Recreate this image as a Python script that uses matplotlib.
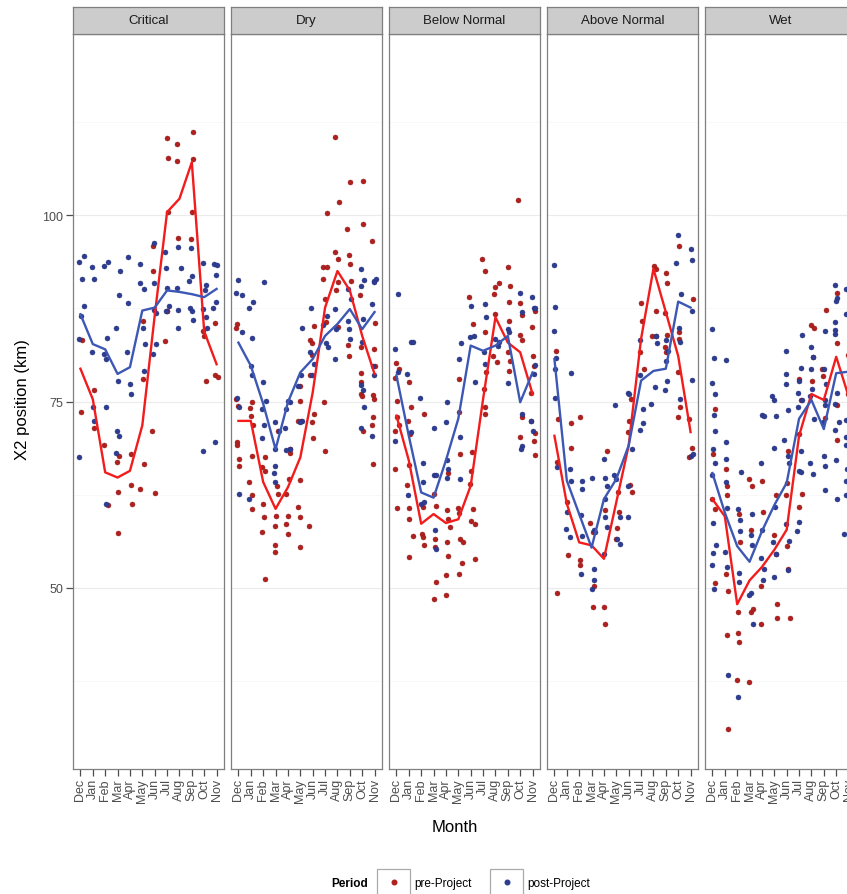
import matplotlib
matplotlib.use('Agg')
import matplotlib.pyplot as plt
from matplotlib.patches import Rectangle
from matplotlib.lines import Line2D

plt.rcParams['font.family'] = ['Liberation Sans', 'DejaVu Sans']

months = ['Dec', 'Jan', 'Feb', 'Mar', 'Apr', 'May', 'Jun', 'Jul', 'Aug', 'Sep', 'Oct', 'Nov']
panels = ['Critical', 'Dry', 'Below Normal', 'Above Normal', 'Wet']
y_ticks = [50, 75, 100]

# ---- Critical ----
crit_pre_m = [7.0, 7.8, 7.1, 7.8, 9.1, 9.1, 7.1, 9.0, 7.9, 8.9, 5.9, 5.9, 7.0,
              0.1, 1.1, 0.05, 1.07, 1.92, 3.12, 2.99, 4.05, 5.12, 5.79,
              2.19, 3.04, 4.05, 4.85, 6.0, 4.19, 3.04, 5.07, 5.07, 6.85,
              6.99, 9.92, 9.97, 10.85, 10.13, 10.85, 11.12]
crit_pre_v = [110.3, 109.6, 107.7, 107.3, 111.2, 107.5, 100.4, 100.4, 96.9, 96.8, 95.8, 92.5, 87.2,
              83.2, 76.6, 73.6, 71.4, 69.2, 67.7, 66.9, 67.9, 66.6, 71.0,
              61.1, 62.8, 63.8, 63.3, 62.7, 61.3, 57.3, 85.8, 78.0, 83.1,
              87.1, 84.5, 83.8, 85.5, 77.8, 78.6, 78.3]
crit_post_m = [-0.08, 0.27, 0.91, 0.11, 1.07, 1.92, 2.19, 3.2, 3.87, 4.85,
               5.92, 6.85, 7.87, 8.93, 6.93, 8.13, 8.99, 9.87, 10.77, 11.04,
               10.99, 4.8, 5.12, 5.92, 6.99, 7.79, 8.8, 10.13, 10.05, 3.12,
               3.87, 5.92, 6.93, 7.92, 8.85, 8.99, 9.87, 10.93, 10.72, 0.27,
               0.05,
               -0.08, 0.91, 2.13, 1.92, 2.05, 2.85, 3.79, 3.07, 4.0, 4.11,
               5.07, 5.25, 5.12, 5.87, 6.13, 6.13, 7.12, 7.92, 9.07, 10.13,
               10.19, 2.05, 0.99, 1.07, 2.93, 3.12, 2.85, -0.08, 2.05, 9.87,
               10.91]
crit_post_v = [93.7, 94.5, 93.1, 91.5, 91.5, 93.2, 93.7, 92.5, 94.4, 93.5,
               96.2, 95.0, 95.7, 95.6, 92.9, 92.9, 91.9, 93.6, 93.4, 93.3,
               92.0, 90.9, 90.1, 90.9, 90.2, 90.2, 91.1, 90.6, 89.9, 89.3,
               88.2, 87.3, 87.2, 87.3, 87.6, 87.2, 87.4, 88.3, 87.5, 87.8,
               86.5,
               83.4, 81.6, 83.5, 81.4, 80.7, 84.9, 81.6, 77.8, 77.3, 76.0,
               84.8, 82.7, 79.1, 81.4, 82.7, 86.9, 87.8, 84.8, 86.0, 86.3,
               84.9, 74.2, 74.2, 72.4, 71.1, 70.4, 68.1, 67.5, 61.3, 68.4,
               69.5]
crit_pre_mean = [79.4, 75.3, 65.5, 64.8, 65.7, 71.8, 86.5, 100.4, 102.2, 107.1, 84.4, 80.0]
crit_post_mean = [86.7, 82.7, 82.0, 78.7, 79.6, 87.2, 87.6, 89.9, 89.7, 89.4, 89.0, 90.1]

# ---- Dry ----
dry_pre_m = [7.79, 8.99, 10.05, 8.13, 7.17, 8.8, 10.05, 10.77, 7.79, 8.05,
             8.91, 8.99, 6.8, 7.12, 6.8, 7.92, 8.05, 9.12, 9.79, 11.07,
             9.87, 10.99, 11.07, 8.85, 8.93, 6.99, 6.13, 5.79, 5.92, 7.07,
             8.05, 9.87, 9.92, 9.87, 10.0, 10.93, 10.91, 6.93, 10.85, 10.77,
             10.05, 10.85, 6.99, 5.92, 5.79, 4.99, 4.99, 5.07, 6.13, 5.97,
             6.05, 4.85, -0.16, -0.08, -0.16, 0.0, 1.07, 0.91, 0.99, 1.17,
             -0.08, -0.08, 0.05, 0.05, 1.07, 0.85, 1.07, 1.12, 1.92, 2.13,
             2.13, 2.0, 2.05, 1.92, 3.2, 3.12, 3.04, 2.99, 2.99, 2.99,
             2.13, 3.2, 4.0, 3.84, 4.0, 4.19, 4.13, 4.05, 3.84, 4.99,
             4.85, 4.99, 4.99, 5.73]
dry_pre_v = [110.5, 104.4, 104.6, 101.7, 100.3, 98.2, 98.8, 96.5, 95.0, 94.1,
             94.6, 93.4, 93.1, 93.0, 91.5, 90.0, 91.0, 91.1, 89.3, 85.5,
             82.3, 82.1, 79.8, 82.6, 81.1, 88.7, 85.1, 83.3, 82.9, 85.6,
             85.0, 78.8, 77.6, 76.0, 75.8, 75.3, 75.9, 75.0, 72.9, 71.8,
             71.1, 66.6, 68.4, 81.2, 78.5, 75.1, 77.1, 72.4, 73.3, 72.3,
             70.1, 72.4, 84.9, 85.4, 75.4, 74.4, 74.9, 74.1, 73.1, 71.8,
             69.6, 69.1, 67.3, 66.4, 67.7, 64.2, 62.5, 60.6, 66.2, 65.7,
             67.5, 61.3, 59.5, 57.5, 71.1, 63.7, 59.7, 58.3, 55.8, 54.8,
             51.2, 62.6, 59.6, 58.6, 57.2, 68.1, 68.6, 64.6, 62.6, 64.5,
             60.8, 59.5, 55.5, 58.3]
dry_post_m = [0.0, -0.16, 0.27, 0.85, 1.17, 2.05, 0.27, 1.07, 0.99, 1.12,
              1.97, 0.05, -0.08, 2.19, 1.92, 2.05, 1.92, 2.99, 3.25, 2.99,
              2.99, 2.85, 2.99, 4.0, 4.19, 3.84, 3.73, 4.13, 3.87, 5.07,
              4.85, 5.12, 4.99, 5.87, 5.12, 5.79, 5.92, 6.13, 6.85, 7.04,
              7.2, 7.12, 7.79, 7.92, 7.79, 8.85, 8.85, 8.91, 8.99, 9.07,
              9.87, 9.87, 10.13, 10.05, 10.0, 9.92, 10.05, 10.13, 9.87, 10.99,
              11.12, 10.93, 10.77, 10.99, 10.85, 10.77, 0.05, 0.85]
dry_post_v = [91.3, 89.6, 89.3, 87.6, 88.3, 91.0, 84.3, 83.5, 79.7, 78.5,
              77.6, 74.2, 75.5, 75.1, 74.0, 71.9, 70.1, 72.3, 71.1, 68.6,
              66.4, 65.4, 64.2, 75.1, 75.0, 74.0, 71.5, 68.6, 68.5, 78.5,
              77.1, 72.4, 72.2, 87.6, 84.9, 81.6, 78.5, 80.0, 85.2, 82.9,
              82.3, 86.5, 87.4, 84.7, 80.7, 90.1, 85.8, 84.7, 83.4, 88.7,
              92.8, 90.5, 91.3, 86.1, 83.0, 77.2, 76.5, 74.2, 71.4, 91.2,
              91.4, 91.0, 88.1, 78.5, 79.8, 70.4, 62.6, 61.9]
dry_pre_mean = [72.4, 72.4, 64.2, 60.6, 63.5, 67.5, 76.2, 87.6, 92.5, 89.9, 83.8, 78.7]
dry_post_mean = [82.9, 79.8, 74.7, 68.6, 74.9, 78.9, 80.7, 83.8, 85.4, 87.4, 84.7, 87.0]

# ---- Below Normal ----
bn_pre_m = [9.84, 6.91, 7.12, 8.99, 7.97, 8.29, 7.92, 9.17, 5.84, 6.16,
            7.17, 7.97, 9.09, 9.97, 10.16, 11.17, 10.96, 9.12, 9.97, 10.16,
            7.84, 8.11, 9.04, 9.17, 9.09, 7.25, 7.09, 7.17, 7.12, 6.11,
            6.05, 5.97, 6.16, 6.05, 6.32, 6.32, 5.09, 5.04, 5.12, 4.99,
            5.09, 5.17, 5.36, 5.31, 5.04, 4.19, 4.11, 4.19, 4.29, 4.11,
            4.19, 4.03, 3.97, 3.04, 3.23, 3.12, 3.12, 3.17, 3.04, 2.24,
            2.05, 2.16, 2.24, 2.16, 0.99, 1.17, 0.91, 1.09, 1.04, 0.83,
            1.04, 1.04, 1.31, 0.99, -0.03, 0.19, -0.08, 0.03, 0.03, 0.19,
            -0.08, -0.08, 0.03, 11.04, 11.12, 10.91, 11.17, 11.12, 11.17, 9.97,
            10.16, 10.91]
bn_pre_v = [102.0, 94.1, 92.5, 93.0, 90.3, 90.9, 89.4, 90.5, 89.0, 85.4,
            84.3, 86.7, 88.3, 88.2, 86.6, 87.2, 85.0, 85.8, 83.9, 83.2,
            81.1, 80.3, 81.6, 80.5, 79.1, 78.9, 76.7, 74.2, 73.3, 68.2,
            65.7, 63.9, 60.6, 59.0, 58.6, 53.9, 78.0, 73.6, 68.0, 60.7,
            60.1, 56.6, 56.1, 53.3, 51.9, 65.4, 60.5, 59.2, 58.1, 56.1,
            54.3, 51.7, 49.0, 62.6, 61.0, 56.6, 55.5, 50.8, 48.5, 73.3,
            57.2, 56.8, 55.7, 60.8, 77.6, 74.2, 72.4, 70.6, 66.5, 63.8,
            60.7, 59.2, 56.9, 54.1, 80.2, 79.4, 78.2, 75.1, 72.9, 71.8,
            71.1, 66.0, 60.7, 81.1, 79.8, 76.2, 70.8, 69.7, 67.8, 70.3,
            72.9, 72.4]
bn_post_m = [0.11, -0.08, 0.11, -0.08, 0.83, 1.17, 1.31, 1.17, 0.91, 1.92,
             2.11, 2.11, 1.97, 2.24, 3.04, 3.04, 3.23, 3.12, 3.17, 4.11,
             3.97, 4.05, 4.19, 4.11, 5.09, 5.25, 5.17, 5.12, 6.05, 5.97,
             6.24, 6.32, 7.12, 7.23, 7.04, 7.17, 7.97, 8.24, 8.32, 8.99,
             9.09, 8.99, 9.97, 10.16, 10.16, 10.11, 10.05, 10.99, 11.12, 11.23,
             11.17, 11.12, 10.91, 11.04]
bn_post_v = [89.4, 82.1, 78.9, 69.7, 78.7, 83.0, 83.0, 70.9, 62.4, 75.5,
             66.8, 64.2, 61.3, 61.5, 71.4, 65.1, 65.1, 57.7, 55.2, 74.9,
             72.2, 67.1, 66.0, 64.8, 80.7, 82.9, 70.2, 64.6, 87.8, 83.6,
             83.8, 77.6, 88.1, 86.4, 81.7, 80.0, 83.4, 82.5, 83.0, 84.7,
             84.3, 77.5, 89.6, 87.0, 73.3, 69.0, 68.6, 89.0, 87.5, 87.5,
             79.9, 78.7, 72.4, 71.1]
bn_pre_mean = [73.1, 67.1, 58.6, 59.9, 58.7, 59.2, 63.7, 75.3, 86.3, 82.9, 81.6, 76.0]
bn_post_mean = [78.5, 70.4, 62.8, 62.1, 67.1, 72.7, 82.5, 81.8, 82.5, 83.8, 74.9, 78.9]

# ---- Above Normal ----
an_pre_m = [10.05, 8.03, 8.19, 9.04, 9.09, 6.96, 8.24, 8.91, 11.23, 7.04,
            6.91, 7.23, 7.92, 8.24, 8.91, 8.99, 9.09, 10.05, 10.05, 9.97,
            10.11, 9.97, 10.91, 11.12, 10.91, 6.16, 6.05, 5.97, 6.11, 6.24,
            5.17, 5.25, 5.09, 4.99, 4.24, 4.11, 3.97, 4.05, 3.12, 3.23,
            2.91, 3.12, 2.05, 2.05, 2.05, 1.09, 1.04, 1.31, 1.31, 0.29,
            0.19, 0.11, 0.19]
an_pre_v = [95.8, 93.2, 92.8, 92.3, 90.9, 88.2, 87.2, 86.9, 88.8, 85.8,
            81.7, 79.3, 83.8, 83.8, 82.3, 81.7, 83.9, 84.3, 83.4, 78.9,
            74.2, 72.9, 72.6, 68.7, 67.6, 75.3, 72.4, 70.9, 63.8, 62.9,
            62.8, 60.2, 58.0, 56.6, 68.3, 60.5, 47.4, 45.2, 47.4, 50.3,
            58.7, 57.5, 72.9, 53.7, 53.0, 54.4, 61.5, 68.7, 72.1, 72.6,
            66.9, 81.8, 49.3]
an_post_m = [-0.03, 0.03, -0.03, 0.11, 0.03, 0.03, 0.24, 1.31, 1.25, 1.31,
             0.99, 0.91, 1.25, 2.24, 2.24, 2.16, 2.24, 2.11, 3.04, 3.17,
             3.31, 3.23, 3.23, 3.04, 4.03, 4.11, 4.24, 4.05, 4.11, 4.24,
             3.97, 4.91, 4.83, 4.99, 5.31, 5.09, 5.31, 5.97, 6.05, 6.24,
             5.97, 5.97, 6.91, 6.91, 7.17, 7.12, 6.91, 7.84, 8.11, 8.24,
             8.29, 9.04, 9.17, 8.99, 9.09, 8.91, 9.97, 9.84, 10.24, 10.05,
             10.11, 10.16, 11.04, 11.12, 11.12, 11.12, 11.04, 11.17]
an_post_v = [93.3, 87.7, 84.4, 80.8, 79.4, 75.5, 66.2, 78.8, 65.9, 64.3,
             60.2, 57.9, 56.8, 64.4, 63.3, 59.8, 57.0, 51.9, 64.7, 57.7,
             57.5, 52.5, 51.1, 49.9, 67.3, 64.8, 63.7, 61.9, 59.5, 58.1,
             54.6, 74.5, 65.1, 64.6, 59.5, 56.6, 55.9, 76.2, 76.0, 68.6,
             63.7, 59.5, 83.2, 78.5, 74.0, 72.1, 71.2, 74.7, 76.9, 83.8,
             82.9, 83.3, 81.8, 80.5, 77.7, 76.5, 97.3, 93.6, 89.4, 84.9,
             83.0, 75.3, 95.4, 94.0, 87.2, 77.9, 67.7, 68.0]
an_pre_mean = [70.4, 61.3, 56.1, 55.7, 53.9, 61.5, 69.1, 83.4, 92.8, 87.0, 81.1, 70.9]
an_post_mean = [80.7, 64.4, 59.9, 55.4, 61.9, 64.6, 69.1, 77.8, 79.1, 79.4, 88.4, 87.6]

# ---- Wet ----
wet_pre_m = [10.05, 10.05, 9.17, 8.0, 8.19, 8.13, 8.85, 8.93, 10.05, 10.05,
             9.12, 7.12, 6.99, 8.05, 6.99, 7.25, 6.99, 6.13, 6.05, 5.92,
             6.05, 6.13, 6.24, 5.12, 4.99, 5.17, 5.25, 5.25, 4.05, 4.0,
             3.92, 3.92, 2.99, 3.2, 3.12, 3.12, 3.25, 2.99, 2.13, 2.19,
             2.05, 2.05, 2.13, 2.0, 1.07, 1.17, 1.17, 1.12, 1.25, 1.17,
             1.25, 0.19, 0.05, 0.0, 0.19, 0.19, 10.99, 10.93, 11.12]
wet_pre_v = [89.6, 82.9, 87.3, 85.3, 84.8, 81.0, 79.3, 78.4, 74.5, 69.9,
             72.8, 75.2, 78.0, 77.8, 70.7, 62.6, 60.9, 68.4, 64.1, 62.4,
             55.6, 52.5, 46.0, 62.4, 57.1, 54.6, 47.8, 46.0, 60.2, 64.4,
             50.3, 45.2, 64.6, 63.6, 57.7, 46.7, 47.2, 37.4, 59.9, 56.1,
             46.7, 43.9, 42.7, 37.7, 65.9, 63.6, 62.4, 51.8, 49.6, 43.7,
             31.0, 74.0, 67.9, 61.9, 60.6, 50.6, 81.3, 76.0, 71.0]
wet_post_m = [9.92, 10.77, 10.05, 10.0, 10.77, 9.92, 0.0, 7.25, 9.07, 0.13,
              1.07, 5.92, 8.0, 8.13, 9.87, 9.92, 0.0, 0.24, 4.85, 4.99,
              5.92, 5.92, 6.13, 7.12, 6.99, 6.93, 7.2, 6.93, 8.0, 8.05,
              7.92, 8.19, 8.99, 9.17, 9.07, 9.12, 8.91, 10.05, 9.92, 10.19,
              9.87, 10.77, 10.77, 10.8, 0.13, 0.19, 0.05, 0.19, 1.07, 1.07,
              4.0, 4.19, 5.12, 3.92, 4.99, 5.79, 6.13, 6.19, 6.99, 7.12,
              7.92, 8.13, 8.99, 9.07, 9.12, 10.0, 10.05, 10.77, 10.77, 10.67,
              0.0, 0.05, 0.05, 0.0, 0.13, 0.32, 1.12, 1.17, 0.99, 1.17,
              2.32, 2.05, 2.24, 2.19, 2.13, 2.13, 3.2, 3.12, 3.2, 3.12,
              2.99, 3.25, 4.0, 3.92, 4.19, 4.05, 5.07, 4.91, 5.17, 4.99,
              5.92, 6.19, 6.13, 6.85, 6.99, 7.12, 1.25, 2.05, 11.0, 11.1,
              10.9]
wet_post_v = [90.6, 90.1, 88.9, 88.5, 86.8, 85.7, 84.7, 83.9, 84.5, 80.9,
              80.6, 81.8, 82.3, 81.0, 84.6, 84.1, 77.5, 76.0, 75.8, 75.2,
              78.7, 77.3, 73.8, 79.5, 77.8, 76.2, 75.2, 74.2, 79.3, 76.7,
              75.7, 72.7, 79.3, 77.3, 75.2, 74.5, 72.2, 76.2, 74.7, 72.2,
              71.2, 72.5, 70.2, 69.2, 73.2, 71.1, 68.6, 66.7, 69.6, 67.3,
              73.2, 73.1, 73.0, 66.8, 68.7, 69.9, 67.7, 66.7, 65.7, 68.4,
              66.8, 65.3, 67.7, 66.3, 63.1, 67.2, 61.9, 64.4, 62.4, 57.2,
              65.1, 58.7, 54.7, 53.1, 49.8, 55.8, 64.2, 60.7, 54.8, 52.8,
              65.6, 60.6, 59.1, 57.6, 52.0, 50.8, 59.9, 57.1, 55.8, 49.3,
              49.0, 45.1, 57.8, 54.0, 52.5, 51.0, 60.9, 56.1, 54.6, 51.5,
              58.6, 56.3, 52.4, 57.6, 58.9, 65.5, 38.3, 35.4, 78.5, 85.0,
              66.0]
wet_pre_mean = [61.9, 59.6, 47.8, 51.0, 52.8, 55.1, 57.8, 70.4, 76.0, 75.2, 81.0, 75.7]
wet_post_mean = [65.4, 60.1, 55.6, 53.5, 57.6, 61.1, 64.1, 72.7, 75.2, 71.3, 78.8, 79.0]

pre_m = [crit_pre_m, dry_pre_m, bn_pre_m, an_pre_m, wet_pre_m]
pre_v = [crit_pre_v, dry_pre_v, bn_pre_v, an_pre_v, wet_pre_v]
post_m = [crit_post_m, dry_post_m, bn_post_m, an_post_m, wet_post_m]
post_v = [crit_post_v, dry_post_v, bn_post_v, an_post_v, wet_post_v]
pre_mean = [crit_pre_mean, dry_pre_mean, bn_pre_mean, an_pre_mean, wet_pre_mean]
post_mean = [crit_post_mean, dry_post_mean, bn_post_mean, an_post_mean, wet_post_mean]

RED_PT = '#B0201E'
BLUE_PT = '#2E3D92'
RED_LN = '#F21C1C'
BLUE_LN = '#3D58B4'
GREY = '#7F7F7F'
TXT = '#4D4D4D'

W, H = 847, 895
fig = plt.figure(figsize=(W / 100, H / 100), dpi=100)
lefts = [73, 231, 389, 547, 705]
pw = 151

for i, name in enumerate(panels):
    l = lefts[i]
    ax = fig.add_axes([l / W, 1 - 770 / H, pw / W, 735 / H])
    ax.set_xlim(-0.6, 11.6)
    ax.set_ylim(25.7, 124.3)
    for g in [37.5, 62.5, 87.5, 112.5]:
        ax.axhline(g, color='#F7F7F7', lw=0.6, zorder=0)
    for g in y_ticks:
        ax.axhline(g, color='#EBEBEB', lw=0.8, zorder=0)
    ax.scatter(pre_m[i], pre_v[i], s=13, c=RED_PT, edgecolors='#8E1A18',
               linewidths=0.3, zorder=2)
    ax.scatter(post_m[i], post_v[i], s=13, c=BLUE_PT, edgecolors='#222E78',
               linewidths=0.3, zorder=2)
    ax.plot(range(12), pre_mean[i], color=RED_LN, lw=1.7, zorder=3,
            solid_joinstyle='round')
    ax.plot(range(12), post_mean[i], color=BLUE_LN, lw=1.7, zorder=3,
            solid_joinstyle='round')
    for sp in ax.spines.values():
        sp.set_color(GREY)
        sp.set_linewidth(0.9)
    ax.set_xticks(range(12))
    ax.set_xticklabels(months, rotation=90, fontsize=9, color=TXT)
    ax.tick_params(axis='x', length=5, width=0.9, color=TXT, pad=1.5)
    ax.set_yticks(y_ticks)
    if i == 0:
        ax.set_yticklabels([str(t) for t in y_ticks], fontsize=9, color=TXT)
        ax.tick_params(axis='y', length=5, width=0.9, color=TXT, pad=2)
    else:
        ax.tick_params(axis='y', length=0, labelleft=False)

    strip = fig.add_axes([l / W, 1 - 35 / H, pw / W, 27.5 / H])
    strip.set_facecolor('#CCCCCC')
    strip.set_xticks([])
    strip.set_yticks([])
    for sp in strip.spines.values():
        sp.set_color(GREY)
        sp.set_linewidth(0.9)
    strip.text(0.5, 0.5, name, ha='center', va='center', fontsize=9.5,
               color='#1A1A1A', transform=strip.transAxes)

fig.text(22 / W, 1 - 400 / H, 'X2 position (km)', rotation=90, ha='center',
         va='center', fontsize=12)
fig.text(455 / W, 1 - 828 / H, 'Month', ha='center', va='center', fontsize=12)

# legend
fig.text(368 / W, 1 - 884 / H, 'Period', ha='right', va='center',
         fontsize=8.5, fontweight='bold')
for bx, col, lab in [(377, RED_PT, 'pre-Project'), (490, BLUE_PT, 'post-Project')]:
    fig.add_artist(Rectangle((bx / W, 1 - 898 / H), 33 / W, 28 / H,
                             transform=fig.transFigure, fill=False,
                             edgecolor='#AAAAAA', lw=0.9))
    fig.add_artist(Line2D([(bx + 16.5) / W], [1 - 883 / H], marker='o',
                          markersize=3.3, color=col, linestyle='none',
                          transform=fig.transFigure))
    fig.text((bx + 37) / W, 1 - 884 / H, lab, ha='left', va='center',
             fontsize=8.5)

fig.savefig('out.png', dpi=100)
